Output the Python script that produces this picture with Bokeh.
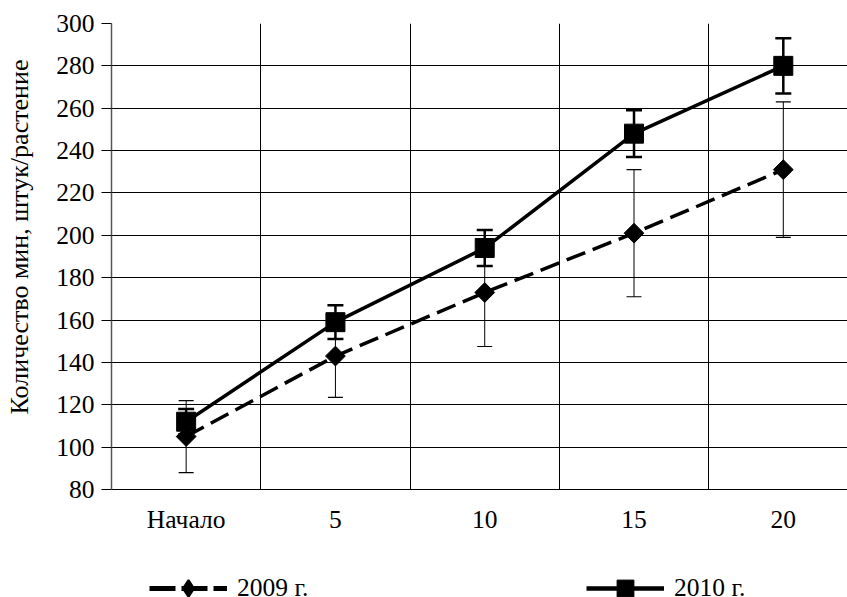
import math
from bokeh.plotting import figure
from bokeh.layouts import column
from bokeh.models import (ColumnDataSource, Range1d, FixedTicker, Whisker, TeeHead,
                          Legend, LegendItem)
from bokeh.embed import file_html
from bokeh.resources import INLINE

# ---- data ----
categories = ["Начало", "5", "10", "15", "20"]
y_2009 = [105, 143, 173, 201, 231]
err_2009 = [17, 19.5, 25.5, 30, 32]
y_2010 = [112, 159, 194, 248, 280]
err_2010 = [6, 8, 8.5, 11, 13]
y_ticks = [80, 100, 120, 140, 160, 180, 200, 220, 240, 260, 280, 300]
series_names = ["2009 г.", "2010 г."]
y_title = "Количество мин, штук/растение"

FONT = "Liberation Serif"
FS = "25.5px"

xs = list(range(len(categories)))
src09 = ColumnDataSource(dict(x=xs, y=y_2009,
                              upper=[a + b for a, b in zip(y_2009, err_2009)],
                              lower=[a - b for a, b in zip(y_2009, err_2009)]))
src10 = ColumnDataSource(dict(x=xs, y=y_2010,
                              upper=[a + b for a, b in zip(y_2010, err_2010)],
                              lower=[a - b for a, b in zip(y_2010, err_2010)]))

p = figure(width=847, height=555, output_backend="svg", toolbar_location=None,
           x_range=Range1d(-0.5, 4.43), y_range=Range1d(y_ticks[0], y_ticks[-1]),
           min_border_left=111, min_border_right=0, min_border_top=23,
           min_border_bottom=66)
p.outline_line_color = None
p.background_fill_color = "white"

# axes
p.xaxis.ticker = FixedTicker(ticks=xs)
p.xaxis.major_label_overrides = {i: c for i, c in enumerate(categories)}
p.xaxis.major_tick_out = 0
p.xaxis.major_tick_in = 0
p.xaxis.minor_tick_line_color = None
p.xaxis.major_label_standoff = 15
p.xaxis.axis_line_color = "black"
p.xaxis.axis_line_width = 1.2

p.yaxis.ticker = FixedTicker(ticks=y_ticks)
p.yaxis.major_tick_out = 10
p.yaxis.major_tick_in = 0
p.yaxis.minor_tick_line_color = None
p.yaxis.major_label_standoff = 7
p.yaxis.axis_line_color = "#555555"
p.yaxis.axis_line_width = 1.5
p.yaxis.major_tick_line_color = "black"
p.yaxis.axis_label = "\u00a0" * 6 + y_title
p.yaxis.axis_label_standoff = 19
p.yaxis.axis_label_text_font = FONT
p.yaxis.axis_label_text_font_size = "26px"
p.yaxis.axis_label_text_font_style = "normal"
p.yaxis.axis_label_text_color = "black"

for ax in (p.xaxis[0], p.yaxis[0]):
    ax.major_label_text_font = FONT
    ax.major_label_text_font_size = FS
    ax.major_label_text_color = "black"

# grid
p.xgrid.ticker = FixedTicker(ticks=[i + 0.5 for i in xs[:-1]])
p.xgrid.grid_line_color = "black"
p.xgrid.grid_line_width = 1
p.ygrid.grid_line_color = "black"
p.ygrid.grid_line_width = 1.2

# error bars
w09 = Whisker(base="x", upper="upper", lower="lower", source=src09,
              line_color="black", line_width=1,
              upper_head=TeeHead(size=15, line_width=1.2, line_color="black"),
              lower_head=TeeHead(size=15, line_width=1.2, line_color="black"))
w10 = Whisker(base="x", upper="upper", lower="lower", source=src10,
              line_color="black", line_width=2.5,
              upper_head=TeeHead(size=16, line_width=2.5, line_color="black"),
              lower_head=TeeHead(size=16, line_width=2.5, line_color="black"))
p.add_layout(w09)
p.add_layout(w10)

# series
line_style_09 = dict(line_color="black", line_width=3.5, line_dash="20 8")
line_style_10 = dict(line_color="black", line_width=3.5)
mark_09 = dict(marker="square", size=14, angle=math.pi / 4,
               fill_color="black", line_color="black")
mark_10 = dict(marker="square", size=19, fill_color="black", line_color="black")

p.line("x", "y", source=src10, **line_style_10)
p.scatter("x", "y", source=src10, **mark_10)
p.line("x", "y", source=src09, **line_style_09)
p.scatter("x", "y", source=src09, **mark_09)

# ---- legend strip: separate figure whose view range excludes the data,
# so its renderers only supply legend glyphs ----
pl = figure(width=847, height=42, output_backend="svg", toolbar_location=None,
            x_axis_location=None, y_axis_location=None,
            x_range=Range1d(-0.5, 4.43), y_range=Range1d(-2, -1),
            min_border_left=0, min_border_right=0, min_border_top=0,
            min_border_bottom=0)
pl.outline_line_color = None
pl.xgrid.visible = False
pl.ygrid.visible = False
g09l = pl.line("x", "y", source=src09, line_color="black", line_width=5,
               line_dash="26 6")
g09m = pl.scatter("x", "y", source=src09, marker="diamond", size=20,
                  fill_color="black", line_color="black", line_width=2)
g10l = pl.line("x", "y", source=src10, line_color="black", line_width=4.5)
g10m = pl.scatter("x", "y", source=src10, **mark_10)

legend = Legend(items=[LegendItem(label=series_names[0], renderers=[g09l, g09m]),
                       LegendItem(label=series_names[1], renderers=[g10l, g10m])],
                orientation="horizontal", location=(38, -12),
                glyph_width=78, glyph_height=42, label_standoff=10,
                label_width=72, spacing=277, padding=0, margin=0,
                border_line_color=None, background_fill_alpha=0,
                label_text_font=FONT, label_text_font_size=FS,
                label_text_color="black")
pl.add_layout(legend, "center")

open("out.html", "w").write(file_html(column(p, pl, spacing=0), INLINE))
